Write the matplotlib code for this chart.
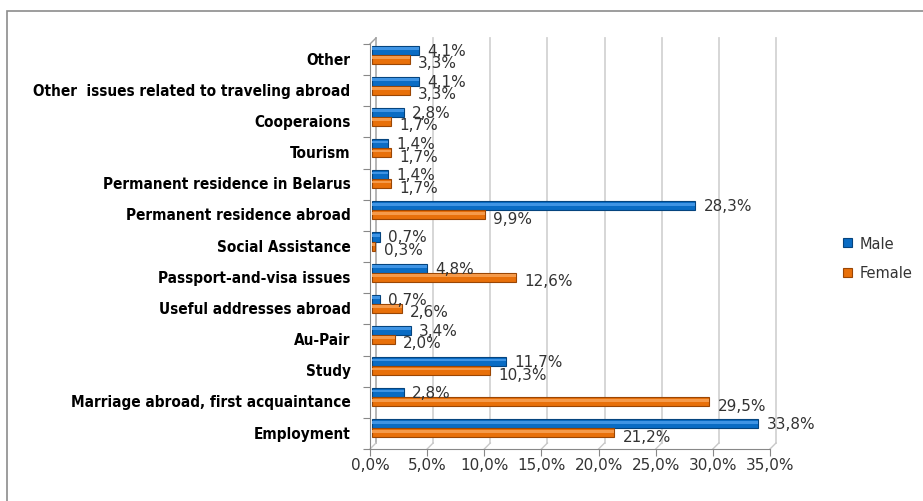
import numpy as np
import matplotlib.pyplot as plt
import matplotlib.transforms as mtransforms
from matplotlib.patches import Rectangle

categories = ['Employment', 'Marriage abroad, first acquaintance', 'Study', 'Au-Pair',
              'Useful addresses abroad', 'Passport-and-visa issues', 'Social Assistance',
              'Permanent residence abroad', 'Permanent residence in Belarus', 'Tourism',
              'Cooperaions', 'Other  issues related to traveling abroad', 'Other']
male = [33.8, 2.8, 11.7, 3.4, 0.7, 4.8, 0.7, 28.3, 1.4, 1.4, 2.8, 4.1, 4.1]
female = [21.2, 29.5, 10.3, 2.0, 2.6, 12.6, 0.3, 9.9, 1.7, 1.7, 1.7, 3.3, 3.3]
xticks = [0, 5, 10, 15, 20, 25, 30, 35]

def pct(v):
    return ('%.1f%%' % v).replace('.', ',')

fig = plt.figure(figsize=(9.23, 5.02), dpi=100)
ax = fig.add_axes([370/923, 1 - 450/502, 400/923, 405/502])

# outer chart border (right/bottom off image)
fig.patches.append(Rectangle((7/923, -0.05), 1.05, 1 - 12/502 + 0.05, transform=fig.transFigure,
                             fill=False, edgecolor='#8c8c8c', linewidth=1.2))

n = len(categories)
y = np.arange(n)
h = 0.29
c_m, c_f = '#0a6cc4', '#e8700a'
# bars sit slightly up/right (pseudo-3D depth)
boff = ax.transData + mtransforms.ScaledTranslation(2/100, 5/100, fig.dpi_scale_trans)
ax.barh(y + h/2, male, height=h, color=c_m, edgecolor='#05447e', linewidth=0.8,
        label='Male', zorder=3, transform=boff)
ax.barh(y - h/2, female, height=h, color=c_f, edgecolor='#9a4604', linewidth=0.8,
        label='Female', zorder=3, transform=boff)
# highlight strips
ax.barh(y + h/2 + h*0.18, male, height=h*0.3, color='#3f94e4', linewidth=0, zorder=3.5, transform=boff)
ax.barh(y - h/2 + h*0.18, female, height=h*0.3, color='#f59a4a', linewidth=0, zorder=3.5, transform=boff)

for i in range(n):
    ax.annotate(pct(male[i]), (male[i], y[i] + h/2), xycoords=boff, xytext=(6, 0),
                textcoords='offset points', va='center', ha='left', fontsize=11,
                color='#333333', zorder=4)
    ax.annotate(pct(female[i]), (female[i], y[i] - h/2), xycoords=boff, xytext=(6, -2.5),
                textcoords='offset points', va='center', ha='left', fontsize=11,
                color='#333333', zorder=4)

# offset gridlines and floor diagonals for pseudo-3D look
off = ax.transData + mtransforms.ScaledTranslation(6/100, 6/100, fig.dpi_scale_trans)
dx, dy = 6/400*35, 6/405*n
for t in xticks:
    col = '#b0b0b0' if t == 0 else '#d3d3d3'
    ax.plot([t, t], [-0.5, n - 0.5], color=col, lw=1.3, transform=off, zorder=1, clip_on=False)
    ax.plot([t, t + dx], [-0.5, -0.5 + dy], color='#c8c8c8', lw=1.0, zorder=1, clip_on=False)
ax.plot([0, dx], [n - 0.5, n - 0.5 + dy], color='#a0a0a0', lw=1.0, zorder=1, clip_on=False)

ax.set_xlim(0, 35)
ax.set_ylim(-0.5, n - 0.5)
ax.set_xticks(xticks)
ax.set_xticklabels([pct(t) for t in xticks], fontsize=11, color='#333333')
ax.set_yticks(np.arange(n + 1) - 0.5)
ax.set_yticklabels([])
ax.set_yticks(y + 0.06, minor=True)
ax.set_yticklabels(categories, minor=True, fontsize=11, fontweight='bold',
                   family='DejaVu Sans', fontstretch='condensed')
ax.tick_params(axis='y', which='major', length=5, color='#888888')
ax.tick_params(axis='y', which='minor', length=0, pad=14)
ax.tick_params(axis='x', length=5, color='#888888', pad=1)
for s in ['top', 'right']:
    ax.spines[s].set_visible(False)
ax.spines['left'].set_color('#888888')
ax.spines['bottom'].set_color('#888888')

fig.legend(handles=ax.containers[:2], labels=['Male', 'Female'], loc='center left',
           bbox_to_anchor=(830/923, 1 - 259/502), frameon=False, fontsize=10.5,
           handlelength=0.6, handleheight=0.6, handletextpad=0.5, labelspacing=1.0,
           labelcolor='#333333')

fig.savefig('out.png', dpi=100)
